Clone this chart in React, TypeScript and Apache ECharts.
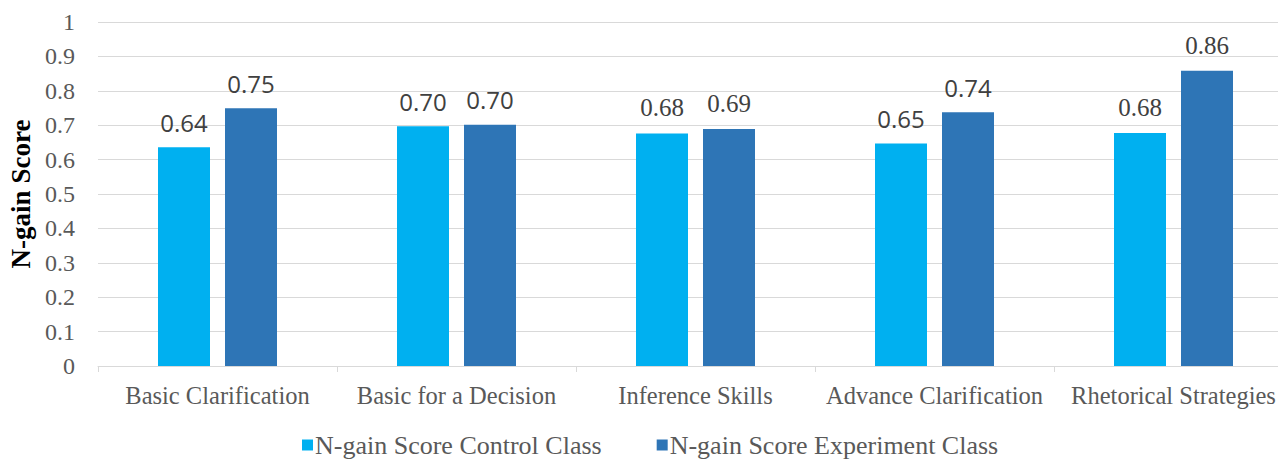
import React, { useEffect, useRef } from "react";
import * as echarts from "echarts";

const categories = [
  "Basic Clarification",
  "Basic for a Decision",
  "Inference Skills",
  "Advance Clarification",
  "Rhetorical Strategies",
];
const controlValues = [0.636, 0.697, 0.676, 0.647, 0.677];
const experimentValues = [0.749, 0.701, 0.689, 0.738, 0.858];
// font used for each data label in the original (mixed sans / serif)
const controlLabelFonts = ["sans", "sans", "serif", "sans", "serif"];
const experimentLabelFonts = ["sans", "sans", "serif", "sans", "serif"];
const yTicks = [0, 0.1, 0.2, 0.3, 0.4, 0.5, 0.6, 0.7, 0.8, 0.9, 1];

const SERIF = "Liberation Serif";
const SANS = "Open Sans";
const BAR_WIDTH = 52;
const BAR_SPACE = 15;

export default function App() {
  const ref = useRef<HTMLDivElement>(null);
  useEffect(() => {
    document.body.style.margin = "0";
    const chart = echarts.init(ref.current!, null, { renderer: "svg" });

    const labelSeries = (name: string, values: number[], fonts: string[], side: number) => ({
      name,
      type: "custom",
      silent: true,
      z: 5,
      data: values.map((v, i) => [i, v]),
      encode: { x: 0, y: 1 },
      renderItem: (params: any, api: any) => {
        const v = api.value(1);
        const p = api.coord([api.value(0), v]);
        const sans = fonts[params.dataIndex] === "sans";
        return {
          type: "text",
          x: p[0] + (side * (BAR_WIDTH + BAR_SPACE)) / 2,
          y: p[1] - 13,
          style: {
            text: Number(v).toFixed(2),
            fill: "#404040",
            font: sans ? "24px 'Open Sans', sans-serif" : "25px 'Liberation Serif', serif",
            fontFamily: sans ? SANS : SERIF,
            fontSize: sans ? 24 : 25,
            textAlign: "center",
            textVerticalAlign: "bottom",
          },
        };
      },
    });

    chart.setOption({
      animation: false,
      backgroundColor: "#ffffff",
      grid: {
        left: 98,
        right: -15,
        top: 22,
        bottom: 97,
        containLabel: false,
        outerBoundsMode: "none",
      },
      legend: {
        data: ["N-gain Score Control Class", "N-gain Score Experiment Class"],
        bottom: 0,
        left: 297,
        itemWidth: 11,
        itemHeight: 11,
        itemGap: 55,
        icon: "rect",
        textStyle: { fontFamily: SERIF, fontSize: 26, color: "#595959", padding: [0, 0, 0, -3] },
      },
      xAxis: {
        type: "category",
        data: categories,
        axisLine: { show: true, lineStyle: { color: "#d9d9d9", width: 1 } },
        axisTick: { show: true, length: 6, alignWithLabel: false, lineStyle: { color: "#d9d9d9" } },
        axisLabel: { fontFamily: SERIF, fontSize: 24.5, color: "#595959", margin: 17, interval: 0 },
      },
      yAxis: {
        type: "value",
        min: 0,
        max: 1,
        interval: 0.1,
        name: "N-gain Score",
        nameLocation: "middle",
        nameRotate: 90,
        nameGap: 64,
        nameMoveOverlap: false,
        nameTextStyle: { fontFamily: SERIF, fontSize: 27, fontWeight: "bold", color: "#000000" },
        axisLine: { show: false },
        axisTick: { show: false },
        splitLine: { lineStyle: { color: "#d9d9d9", width: 1 } },
        axisLabel: {
          fontFamily: SERIF,
          fontSize: 24,
          color: "#595959",
          margin: 23,
          formatter: (v: number) => {
            const t = yTicks.find((x) => Math.abs(x - v) < 1e-9);
            return String(Math.round((t ?? v) * 10) / 10);
          },
        },
      },
      series: [
        {
          name: "N-gain Score Control Class",
          type: "bar",
          data: controlValues,
          barWidth: BAR_WIDTH,
          barGap: `${(BAR_SPACE / BAR_WIDTH) * 100}%`,
          itemStyle: { color: "#00b0f0" },
        },
        {
          name: "N-gain Score Experiment Class",
          type: "bar",
          data: experimentValues,
          barWidth: BAR_WIDTH,
          barGap: `${(BAR_SPACE / BAR_WIDTH) * 100}%`,
          itemStyle: { color: "#2e75b6" },
        },
        labelSeries("Control labels", controlValues, controlLabelFonts, -1),
        labelSeries("Experiment labels", experimentValues, experimentLabelFonts, 1),
      ],
    });
    return () => chart.dispose();
  }, []);
  return <div ref={ref} style={{ width: 1278, height: 463 }} />;
}
